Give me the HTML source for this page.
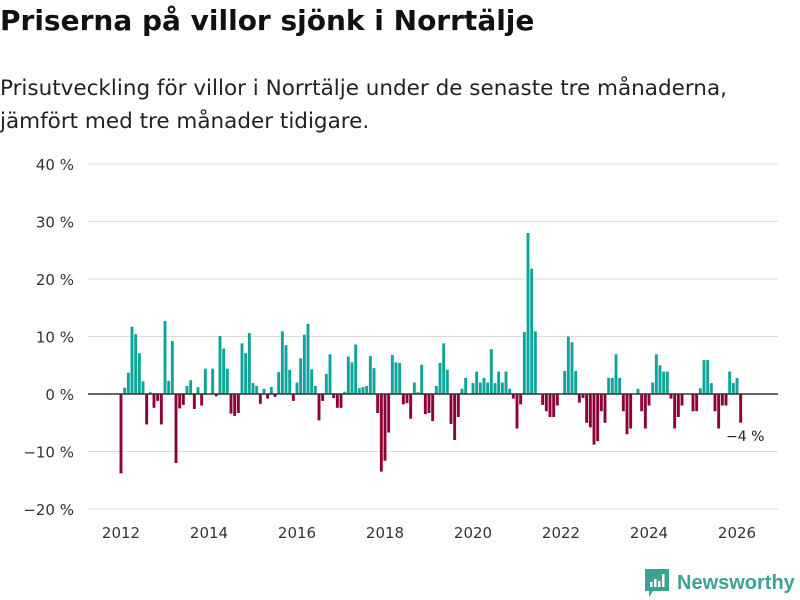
<!DOCTYPE html>
<html><head><meta charset="utf-8"><style>
body{margin:0;background:#fff;width:800px;height:600px;overflow:hidden;font-family:"DejaVu Sans","Liberation Sans",sans-serif}
h1{position:absolute;left:0;top:4px;margin:0;font-size:28px;font-weight:bold;color:#111}
p{position:absolute;left:0;top:72px;margin:0;font-size:21.5px;line-height:33px;color:#222}
</style></head><body>
<h1>Priserna på villor sjönk i Norrtälje</h1>
<p>Prisutveckling för villor i Norrtälje under de senaste tre månaderna,<br>jämfört med tre månader tidigare.</p>
<svg id="chart" width="800" height="600" style="position:absolute;left:0;top:0" font-family="DejaVu Sans, Liberation Sans, sans-serif"></svg>
<script>
const months=[0,1,2,3,4,5,6,7,8,9,10,11,12,13,14,15,16,17,18,19,20,21,22,23,25,26,27,28,29,30,31,32,33,34,35,36,37,38,39,40,41,42,43,44,45,46,47,48,49,50,51,52,53,54,55,56,57,58,59,60,61,62,63,64,65,66,67,68,69,70,71,72,73,74,75,76,77,78,79,80,81,82,83,84,85,86,87,88,89,90,91,92,93,94,96,97,98,99,100,101,102,103,104,105,106,107,108,109,110,111,112,113,115,116,117,118,119,121,122,123,124,125,126,127,128,129,130,131,132,133,134,135,136,137,138,139,141,142,143,144,145,146,147,148,149,150,151,152,153,156,157,158,159,160,161,162,163,164,165,166,167,168,169];
const values=[-13.8,1.1,3.7,11.7,10.4,7.1,2.2,-5.3,0.3,-2.4,-1.2,-5.3,12.7,2.3,9.2,-12,-2.5,-1.9,1.4,2.4,-2.6,1.2,-2,4.4,4.4,-0.4,10.1,7.9,4.4,-3.4,-3.8,-3.3,8.8,7.1,10.6,1.9,1.4,-1.7,0.9,-0.8,1.2,-0.5,3.8,10.9,8.5,4.2,-1.2,2,6.2,10.3,12.2,4.3,1.4,-4.6,-1.2,3.5,6.9,-0.7,-2.4,-2.4,0.4,6.5,5.5,8.6,1,1.2,1.4,6.6,4.5,-3.3,-13.5,-11.6,-6.7,6.8,5.5,5.4,-1.8,-1.6,-4.3,2,0.3,5.1,-3.5,-3.3,-4.7,1.4,5.4,8.8,4.2,-5.2,-8,-4,0.9,2.8,1.9,3.9,2,2.8,2,7.8,1.9,3.9,2,3.9,0.9,-0.8,-6,-1.8,10.8,28,21.8,10.9,-1.9,-3,-4,-4,-2,4,10,9,4,-1.5,-0.7,-5,-5.8,-8.8,-8.2,-3,-5,2.8,2.8,6.9,2.8,-3,-7,-6,0.9,-3,-6,-2,2,6.9,5,3.9,3.9,-0.8,-6,-4,-2,-3,-3,1,5.9,5.9,1.9,-3,-6,-2,-2,3.9,1.9,2.8,-5];
const yTicks=[40,30,20,10,0,-10,-20];
const xTicks=[2012,2014,2016,2018,2020,2022,2024,2026];
const svg=document.getElementById('chart');const NS='http://www.w3.org/2000/svg';
const y=v=>394-v*5.75;
const x=m=>121+m*44/12;
function el(t,a,p){const e=document.createElementNS(NS,t);for(const k in a)e.setAttribute(k,a[k]);(p||svg).appendChild(e);return e;}
yTicks.forEach(t=>{
 const g=el('line',{x1:88,x2:778,y1:y(t),y2:y(t),stroke:'#dcdcdc','stroke-width':1});
 
 
 const tx=el('text',{x:74,y:y(t)+6,'text-anchor':'end','font-size':15,fill:'#333'});
 tx.textContent=(t<0?'−'+(-t):t)+' %';
 
 
});
xTicks.forEach(t=>{
 const tx=el('text',{x:x((t-2012)*12),y:538,'text-anchor':'middle','font-size':15,fill:'#333'});
 tx.textContent=t;
 
 
});
months.forEach((m,i)=>{
 const v=values[i];
 const r=el('rect',{x:x(m)-1.45,width:2.9,y:Math.min(y(0),y(v)),height:Math.abs(y(v)-y(0)),fill:v>=0?'#0fa49a':'#8e0038'});
 
 
});
const z=el('line',{x1:88,x2:778,y1:y(0),y2:y(0),stroke:'#333','stroke-width':1.5});


const lab=el('text',{x:726,y:441,'font-size':14,fill:'#222'});
lab.textContent='−4 %';


</script>
<div style="position:absolute;left:645px;top:569px;display:flex;align-items:center">
<svg width="24" height="28" viewBox="0 0 24 28"><path d="M0 0H24V22H8L4 28V22H0Z" fill="#3aa394"/><rect x="5" y="13" width="2.5" height="5" fill="#fff"/><rect x="9" y="10" width="2.5" height="8" fill="#fff"/><rect x="13" y="12" width="2.5" height="6" fill="#fff"/><rect x="17" y="5" width="2.5" height="13" fill="#fff"/></svg>
<span style="margin-left:8px;font-size:20px;font-weight:bold;color:#3aa394;font-family:'Liberation Sans',sans-serif">Newsworthy</span></div>
</body></html>
